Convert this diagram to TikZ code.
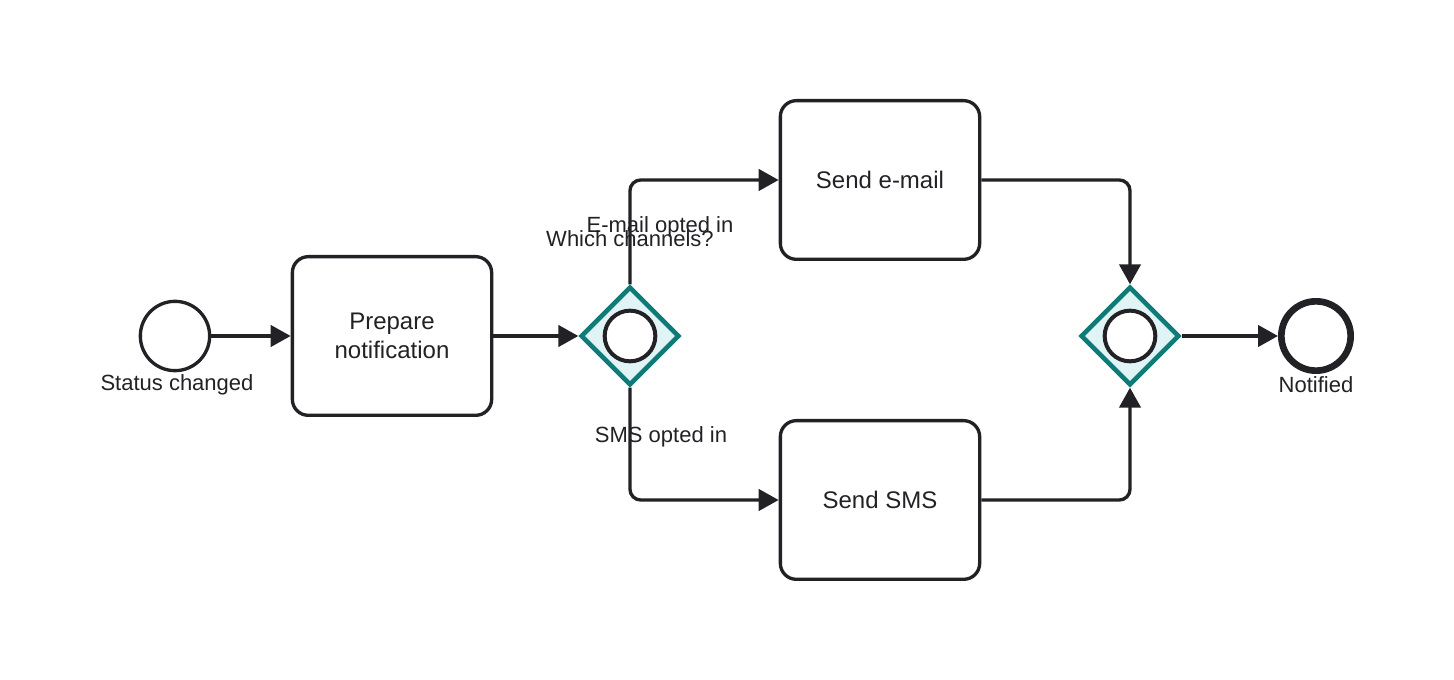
\documentclass[tikz,border=0pt]{standalone}
\usepackage{fontspec}
\setmainfont{Liberation Sans}
\usetikzlibrary{shapes.geometric, arrows.meta, positioning}
\definecolor{flow-dark}{HTML}{222226}
\definecolor{gw-teal}{HTML}{0F7B78}
\definecolor{gw-fill}{HTML}{E1F4F5}
\tikzset{
  startevt/.style={circle, draw=flow-dark, line width=2.5pt, minimum size=52pt, inner sep=0pt},
  endevt/.style={circle, draw=flow-dark, line width=5pt, minimum size=52pt, inner sep=0pt},
  task/.style={draw=flow-dark, line width=2.5pt, rounded corners=12pt,
    minimum width=149.5pt, minimum height=119pt, align=center,
    font=\fontsize{18}{22}\selectfont, text=flow-dark},
  gateway/.style={diamond, draw=gw-teal, fill=gw-fill, line width=3.5pt,
    minimum size=74pt, inner sep=0pt},
  gwring/.style={circle, draw=flow-dark, fill=white, line width=3pt, minimum size=38pt, inner sep=0pt},
  flow/.style={draw=flow-dark, line width=2.5pt, rounded corners=8pt,
    -{Triangle[length=15pt,width=16pt]}},
  lbl/.style={font=\fontsize{16.5}{19}\selectfont, text=flow-dark}
}
\begin{document}
\begin{tikzpicture}[x=0.75pt, y=-0.75pt]
  \useasboundingbox (0,0) rectangle (1454,680);
  % events and tasks
  \node[startevt] (start) at (175,336) {};
  \node[task] (prep) at (392,336) {Prepare\\notification};
  \node[gateway] (gw1) at (630,336) {};
  \node[gwring] (gw1-ring) at (630,336) {};
  \node[task] (email) at (880,180) {Send e-mail};
  \node[task] (sms) at (880,500) {Send SMS};
  \node[gateway] (gw2) at (1130,336) {};
  \node[gwring] (gw2-ring) at (1130,336) {};
  \node[endevt] (end) at (1316,336) {};
  % sequence flows
  \draw[flow] (start) -- (prep);
  \draw[flow] (prep) -- (gw1);
  \draw[flow] (gw1.north) |- (email.west);
  \draw[flow] (gw1.south) |- (sms.west);
  \draw[flow] (email.east) -| (gw2.north);
  \draw[flow] (sms.east) -| (gw2.south);
  \draw[flow] (gw2) -- (end);
  % labels
  \node[lbl] (start-lbl) at (177,385) {Status changed};
  \node[lbl] (gw1-lbl) at (630,239) {Which channels?};
  \node[lbl] (email-lbl) at (660,227) {E-mail opted in};
  \node[lbl] (sms-lbl) at (661,437) {SMS opted in};
  \node[lbl] (end-lbl) at (1316,385) {Notified};
\end{tikzpicture}
\end{document}
